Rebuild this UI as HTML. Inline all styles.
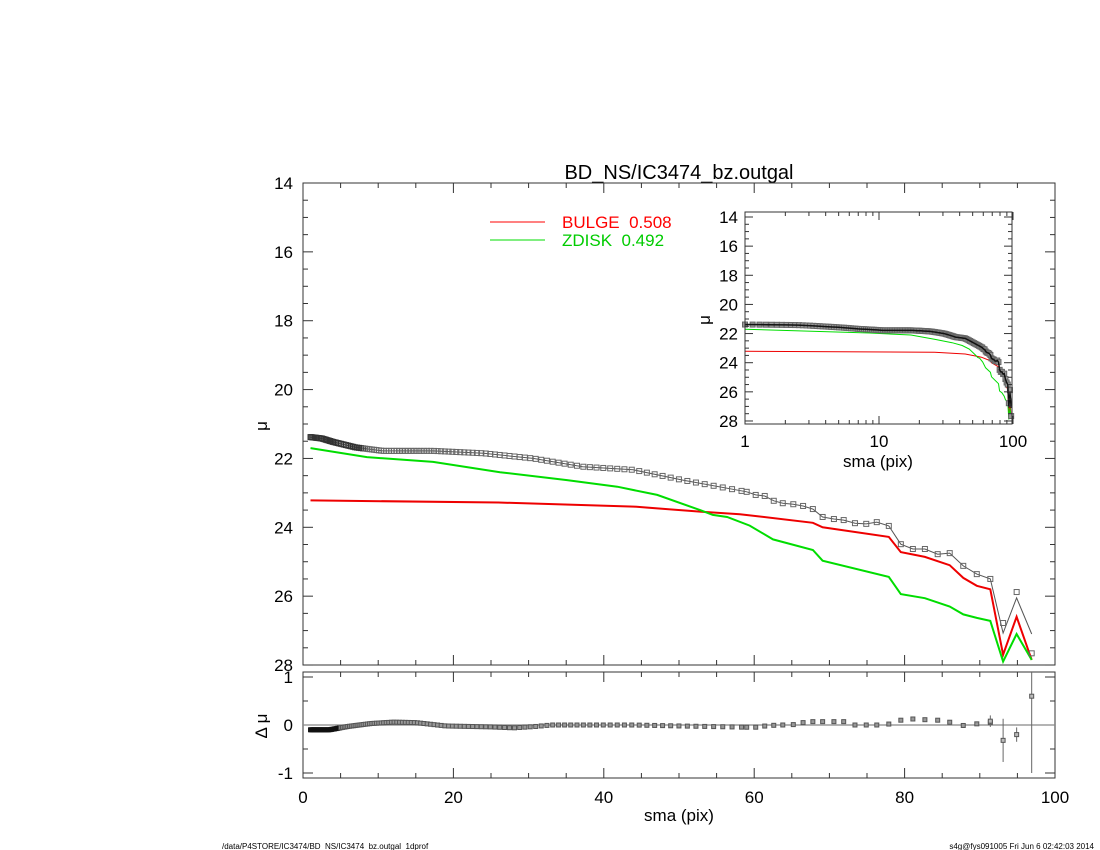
<!DOCTYPE html>
<html><head><meta charset="utf-8"><style>
body{margin:0;background:#fff}
svg{display:block;font-family:"Liberation Sans",sans-serif}
</style></head><body>
<svg id="s" width="1100" height="850" viewBox="0 0 1100 850" xmlns="http://www.w3.org/2000/svg">
<rect width="1100" height="850" fill="#fff"/>
<text x="679" y="179" font-size="20" text-anchor="middle">BD_NS/IC3474_bz.outgal</text>
<line x1="490" y1="222" x2="545" y2="222" stroke="#f00" stroke-width="1"/>
<text x="562" y="228" font-size="17" fill="#f00" xml:space="preserve">BULGE  0.508</text>
<line x1="490" y1="240" x2="545" y2="240" stroke="#0d0" stroke-width="1"/>
<text x="562" y="246" font-size="17" fill="#0c0" xml:space="preserve">ZDISK  0.492</text>
<text x="222" y="849" font-size="8">/data/P4STORE/IC3474/BD_NS/IC3474_bz.outgal_1dprof</text>
<text x="1094" y="849" font-size="8" text-anchor="end">s4g@fys091005  Fri Jun  6 02:42:03 2014</text>
<g id="g"></g>
</svg>
<script>
const NS="http://www.w3.org/2000/svg",G=document.getElementById('g');
function el(t,a,txt){const e=document.createElementNS(NS,t);for(const k in a)e.setAttribute(k,a[k]);if(txt!==undefined)e.textContent=txt;G.appendChild(e);return e;}
function interp(A,x){if(x<=A[0][0])return A[0][1];for(let i=1;i<A.length;i++){if(x<=A[i][0]){const a=A[i-1],b=A[i];return a[1]+(b[1]-a[1])*(x-a[0])/(b[0]-a[0]);}}return A[A.length-1][1];}
const D=[[1,21.38],[2.5,21.42],[4,21.52],[7,21.68],[10.6,21.78],[17.3,21.78],[24,21.85],[30.6,22.0],[37.2,22.24],[43.9,22.33],[50.5,22.63],[59,22.97],[60.2,23.06],[61.4,23.09],[62.6,23.23],[63.8,23.3],[65.2,23.33],[66.5,23.38],[67.8,23.47],[69.1,23.7],[70.6,23.76],[71.9,23.79],[73.4,23.88],[74.9,23.9],[76.3,23.85],[77.9,23.96],[79.5,24.49],[81.1,24.63],[82.7,24.63],[84.4,24.78],[86,24.75],[87.8,25.12],[89.6,25.36],[91.4,25.5],[93.1,26.78],[94.9,25.88],[96.9,27.66]];
const M=D.map(p=>p.slice());M[M.length-3][1]=27.07;M[M.length-2][1]=26.05;M[M.length-1][1]=27.1;
const R=[[1,23.22],[26,23.28],[44,23.4],[53,23.55],[58.1,23.62],[67.8,23.87],[69.1,24.0],[77.9,24.28],[79.5,24.72],[82.7,24.86],[86,25.1],[87.8,25.47],[89.6,25.7],[91.4,25.8],[93.1,27.7],[94.9,26.6],[96.9,27.85]];
const Gr=[[1,21.7],[8.5,21.96],[17.3,22.1],[26.2,22.4],[35.1,22.63],[41.8,22.82],[47.1,23.06],[52.8,23.5],[54.5,23.64],[56.4,23.7],[59.4,23.95],[62.5,24.35],[67.8,24.66],[69.1,24.97],[77.9,25.44],[79.5,25.94],[82.7,26.06],[86,26.3],[87.8,26.53],[89.6,26.63],[91.4,26.72],[93.1,27.9],[94.9,27.1],[96.9,27.85]];
let xs=[];{let x=1;while(x<58.5){xs.push(x);x=x*1.02+0.12;}for(let i=11;i<D.length;i++)xs.push(D[i][0]);}
const mx=x=>303+x*7.52, my=m=>183+(m-14)*34.43;
function dense(A){let pts=[];for(let i=0;i<A.length-1;i++){const a=A[i],b=A[i+1];const n=Math.max(1,Math.round((b[0]-a[0])/0.5));for(let k=0;k<n;k++){const x=a[0]+(b[0]-a[0])*k/n;pts.push([x,interp(A,x)]);}}pts.push(A[A.length-1]);return pts;}
function path(A,fx,fy){return A.map((p,i)=>(i?'L':'M')+fx(p[0]).toFixed(1)+' '+fy(p[1]).toFixed(1)).join('');}
el('path',{d:path(M,mx,my),fill:'none',stroke:'#555','stroke-width':1});
el('path',{d:path(R,mx,my),fill:'none',stroke:'#e00','stroke-width':2});
el('path',{d:path(Gr,mx,my),fill:'none',stroke:'#0d0','stroke-width':2});
xs.forEach(x=>{const v=interp(D,x);const dk=x<8;el('rect',{x:mx(x)-2.5,y:my(v)-2.5,width:5,height:5,fill:'none',stroke:dk?'#333':'#666','stroke-width':1});});
function frame(x0,y0,x1,y1){el('rect',{x:x0,y:y0,width:x1-x0,height:y1-y0,fill:'none',stroke:'#333','stroke-width':1});}
frame(303,183,1055,665);
for(let m=14;m<=28;m+=0.5){const y=my(m),L=(m%2==0)?10:5;el('line',{x1:303,y1:y,x2:303+L,y2:y,stroke:'#333'});el('line',{x1:1055,y1:y,x2:1055-L,y2:y,stroke:'#333'});if(m%2==0)el('text',{x:293,y:y+6,'font-size':17,'text-anchor':'end'},m);}
el('text',{x:267,y:426,'font-size':17,'text-anchor':'middle',transform:'rotate(-90 267 426)'},'μ');
function xticks(y0,y1){for(let x=0;x<=100;x+=5){const X=mx(x),L=(x%20==0)?10:5;el('line',{x1:X,y1:y1,x2:X,y2:y1-L,stroke:'#333'});el('line',{x1:X,y1:y0,x2:X,y2:y0+L,stroke:'#333'});}}
xticks(183,665);
const ry=v=>725-v*48;
frame(303,672,1055,778);
xticks(672,778);
[1,0,-1].forEach(v=>el('text',{x:293,y:ry(v)+6,'font-size':17,'text-anchor':'end'},v));
for(let v=-1;v<=1;v+=0.5){const L=(v%1==0)?10:5;el('line',{x1:303,y1:ry(v),x2:303+L,y2:ry(v),stroke:'#333'});el('line',{x1:1055,y1:ry(v),x2:1055-L,y2:ry(v),stroke:'#333'});}
el('text',{x:267,y:726,'font-size':17,'text-anchor':'middle',transform:'rotate(-90 267 726)'},'Δ μ');
el('line',{x1:303,y1:725,x2:1055,y2:725,stroke:'#888','stroke-width':1.2});
const RS=[[1,-0.1],[3.5,-0.1],[6,-0.03],[9,0.03],[12,0.06],[15,0.05],[19,-0.02],[25,-0.04],[28,-0.06],[31,-0.03],[33,0],[44,0],[50,-0.02],[57,-0.04],[60,-0.05],[62,-0.01],[65.5,0.01],[67,0.07],[72,0.07],[73,0],[77.5,0],[79.5,0.1],[81.4,0.13],[83.4,0.1],[85.3,0.1],[87.3,-0.02],[89.3,0.02],[91.4,0.05]];
xs.forEach(x=>{if(x>91.5)return;const v=interp(RS,x);el('rect',{x:mx(x)-2,y:ry(v)-2,width:4,height:4,fill:x<5?'#111':'#999',stroke:x<5?'#111':'#555','stroke-width':1});});
[[91.4,0.08,0.12],[93.1,-0.32,0.45],[94.9,-0.2,0.15],[96.9,0.6,1.6]].forEach(p=>{const X=mx(p[0]);el('line',{x1:X,y1:Math.max(672,ry(p[1]+p[2])),x2:X,y2:Math.min(778,ry(p[1]-p[2])),stroke:'#666'});el('rect',{x:X-2,y:ry(p[1])-2,width:4,height:4,fill:'#bbb',stroke:'#555'});});
el('text',{x:679,y:821,'font-size':17,'text-anchor':'middle'},'sma (pix)');
for(let x=0;x<=100;x+=20)el('text',{x:mx(x),y:803,'font-size':17,'text-anchor':'middle'},x);
const ix=x=>745+Math.log10(x)*134, iy=m=>217+(m-14)*14.57;
el('rect',{x:745,y:212,width:267,height:212,fill:'#fff',stroke:'none'});
el('path',{d:path(R,ix,iy),fill:'none',stroke:'#e00','stroke-width':1});
el('path',{d:path(Gr,ix,iy),fill:'none',stroke:'#0d0','stroke-width':1});
xs.forEach(x=>{const v=interp(D,x);el('rect',{x:ix(x)-2.5,y:iy(v)-2.5,width:5,height:5,fill:'#999',stroke:'#666','stroke-width':1});});
el('path',{d:path(dense(M),ix,iy),fill:'none',stroke:'#111','stroke-width':1.5});
frame(745,212,1012,424);
for(let m=14;m<=28;m+=0.5){const y=iy(m),L=(m%2==0)?8:4;el('line',{x1:745,y1:y,x2:745+L,y2:y,stroke:'#333'});el('line',{x1:1012,y1:y,x2:1012-L,y2:y,stroke:'#333'});if(m%2==0)el('text',{x:738,y:y+6,'font-size':17,'text-anchor':'end'},m);}
for(let d=1;d<=100;d*=10)for(let k=1;k<10;k++){const x=d*k;if(x>100)break;const X=ix(x),L=(k==1)?8:4;el('line',{x1:X,y1:424,x2:X,y2:424-L,stroke:'#333'});el('line',{x1:X,y1:212,x2:X,y2:212+L,stroke:'#333'});}
[[1,'1'],[10,'10'],[100,'100']].forEach(p=>el('text',{x:ix(p[0]),y:447,'font-size':17,'text-anchor':'middle'},p[1]));
el('text',{x:878,y:467,'font-size':17,'text-anchor':'middle'},'sma (pix)');
el('text',{x:710,y:320,'font-size':17,'text-anchor':'middle',transform:'rotate(-90 710 320)'},'μ');
</script>
</body></html>
